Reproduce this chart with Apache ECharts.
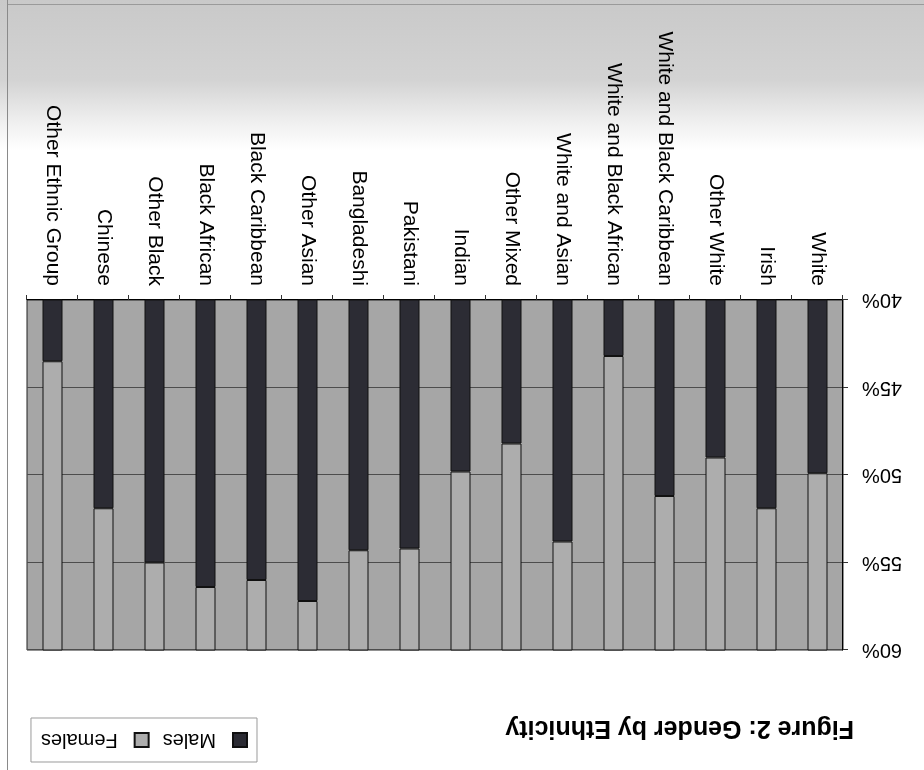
<!DOCTYPE html>
<html>
<head>
<meta charset="utf-8">
<script src="https://cdn.jsdelivr.net/npm/echarts@6/dist/echarts.min.js"></script>
<style>
  html, body { margin: 0; padding: 0; width: 924px; height: 770px; overflow: hidden; background: #ffffff; }
  /* The page is printed upside down: the whole figure is turned half a circle. */
  #page {
    position: absolute; left: 0; top: 0; width: 924px; height: 770px;
    transform: rotate(180deg);
    background: linear-gradient(to top, #c9c9c9 0px, #d3d3d3 80px, #eeeeee 120px, #ffffff 150px);
  }
  #chart { position: absolute; left: 0; top: 0; width: 924px; height: 770px; }
</style>
</head>
<body>
<div id="page"><div id="chart"></div></div>
<script>
// Ethnic groups, in census order
const categories = [
  'White', 'Irish', 'Other White',
  'White and Black Caribbean', 'White and Black African', 'White and Asian', 'Other Mixed',
  'Indian', 'Pakistani', 'Bangladeshi', 'Other Asian',
  'Black Caribbean', 'Black African', 'Other Black',
  'Chinese', 'Other Ethnic Group'
];

// Share of each group (per cent)
const males   = [49.9, 51.9, 49.0, 51.2, 43.2, 53.8, 48.2, 49.8, 54.2, 54.3, 57.2, 56.0, 56.4, 55.0, 51.9, 43.5];
const females = [50.1, 48.1, 51.0, 48.8, 56.8, 46.2, 51.8, 50.2, 45.8, 45.7, 42.8, 44.0, 43.6, 45.0, 48.1, 56.5];

// Value axis range
const axisMin = 40;
const axisMax = 60;
const axisStep = 5;

const FONT = '"Liberation Sans", Arial, Helvetica, sans-serif';

const chart = echarts.init(document.getElementById('chart'), null, { renderer: 'canvas' });

chart.setOption({
  animation: false,
  title: {
    text: 'Figure 2: Gender by Ethnicity',
    left: 70,
    top: 30,
    padding: 0,
    textStyle: { fontFamily: FONT, fontSize: 25, fontWeight: 'bold', color: '#000' }
  },
  legend: {
    data: ['Males', 'Females'],
    left: 667,
    top: 8,
    orient: 'horizontal',
    itemWidth: 14,
    itemHeight: 14,
    itemGap: 13,
    padding: [12, 10, 12, 9],
    borderColor: '#9a9a9a',
    borderWidth: 1,
    icon: 'rect',
    textStyle: { fontFamily: FONT, fontSize: 20, color: '#000', padding: [0, 0, 0, 12] }
  },
  grid: {
    left: 81,
    right: 27,
    top: 120,
    bottom: 300,
    show: true,
    backgroundColor: '#a6a6a6',
    borderColor: '#222',
    borderWidth: 1
  },
  xAxis: {
    type: 'category',
    data: categories,
    axisLine: { lineStyle: { color: '#000', width: 1 } },
    axisTick: { show: true, length: 5, lineStyle: { color: '#333' } },
    axisLabel: {
      rotate: 90,
      interval: 0,
      margin: 14,
      fontFamily: FONT,
      fontSize: 21,
      color: '#000'
    }
  },
  yAxis: {
    type: 'value',
    min: axisMin,
    max: axisMax,
    interval: axisStep,
    axisLine: { show: true, lineStyle: { color: '#000', width: 1 } },
    axisTick: { show: true, length: 5, lineStyle: { color: '#333' } },
    axisLabel: {
      formatter: '{value}%',
      margin: 19,
      fontFamily: FONT,
      fontSize: 20,
      color: '#000'
    },
    splitLine: { show: true, lineStyle: { color: '#4d4d4d', width: 1 } }
  },
  series: [
    {
      name: 'Males',
      type: 'bar',
      stack: 'gender',
      barWidth: 20,
      clip: true,
      data: males,
      itemStyle: { color: '#2c2c34', borderColor: '#111', borderWidth: 1 }
    },
    {
      name: 'Females',
      type: 'bar',
      stack: 'gender',
      barWidth: 20,
      clip: true,
      data: females,
      itemStyle: { color: '#adadad', borderColor: '#111', borderWidth: 1 }
    }
  ],
  graphic: [
    { type: 'line', shape: { x1: 916.5, y1: 0, x2: 916.5, y2: 770 }, style: { stroke: '#8a8a8a', lineWidth: 1 } },
    { type: 'line', shape: { x1: 0, y1: 765.5, x2: 916, y2: 765.5 }, style: { stroke: '#9a9a9a', lineWidth: 1 } }
  ]
});
</script>
</body>
</html>
